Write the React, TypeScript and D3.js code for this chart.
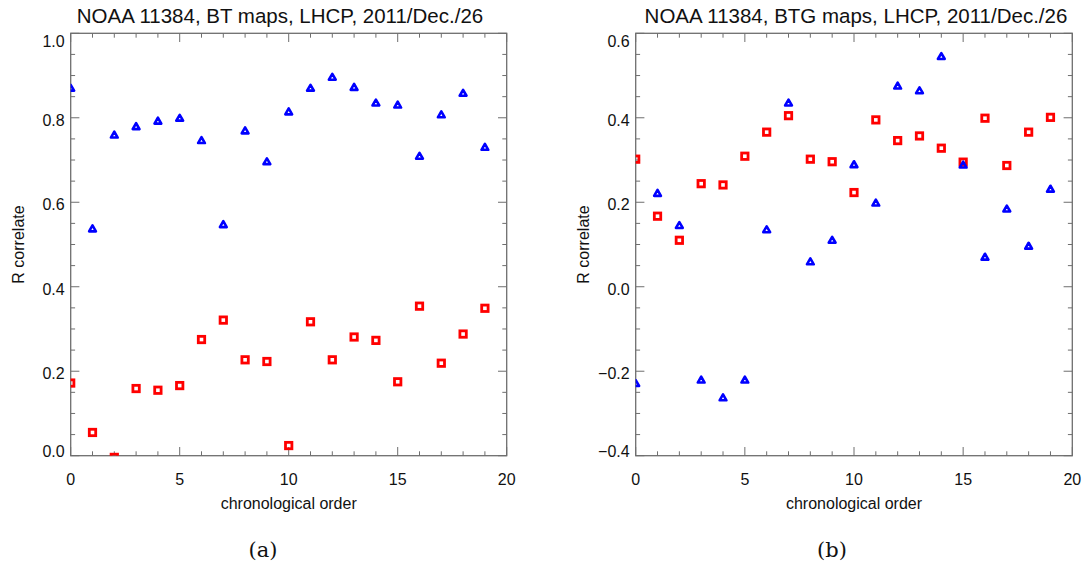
import React from "react";
import * as d3 from "d3";

const chronoOrder = d3.range(0, 20);

const btBlue = [0.870, 0.537, 0.759, 0.779, 0.792, 0.799, 0.746, 0.547, 0.769, 0.696,
  0.814, 0.870, 0.896, 0.872, 0.835, 0.830, 0.709, 0.807, 0.858, 0.730];
const btRed = [0.172, 0.055, -0.004, 0.159, 0.155, 0.166, 0.275, 0.321, 0.227, 0.223,
  0.024, 0.317, 0.227, 0.281, 0.273, 0.175, 0.354, 0.219, 0.288, 0.349];

const btgBlue = [-0.229, 0.221, 0.145, -0.221, -0.263, -0.221, 0.135, 0.435, 0.059, 0.110,
  0.289, 0.198, 0.475, 0.464, 0.545, 0.288, 0.070, 0.184, 0.096, 0.231];
const btgRed = [0.302, 0.167, 0.110, 0.244, 0.241, 0.309, 0.366, 0.405, 0.302, 0.296,
  0.223, 0.395, 0.346, 0.357, 0.328, 0.295, 0.399, 0.287, 0.366, 0.401];

const xTicks = [0, 5, 10, 15, 20];
const leftYTicks = [0.0, 0.2, 0.4, 0.6, 0.8, 1.0];
const rightYTicks = [-0.4, -0.2, 0.0, 0.2, 0.4, 0.6];

const titles = [
  "NOAA 11384, BT maps, LHCP, 2011/Dec./26",
  "NOAA 11384, BTG maps, LHCP, 2011/Dec./26",
];
const captions = ["(a)", "(b)"];
const xLabel = "chronological order";
const yLabel = "R correlate";

const FONT = "'Liberation Sans', Arial, Helvetica, sans-serif";
const AXIS = "#6e6e6e";

type PanelProps = {
  id: string;
  x0: number;
  x1: number;
  yDomain: [number, number];
  yTicks: number[];
  blue: number[];
  red: number[];
  title: string;
  titleX: number;
  caption: string;
  captionX: number;
};

function Panel(p: PanelProps) {
  const top = 33.3;
  const bottom = 455.7;
  const xs = d3.scaleLinear().domain([0, 20]).range([p.x0, p.x1]);
  const ys = d3.scaleLinear().domain(p.yDomain).range([bottom, top]);
  const major = 8.7;
  const minor = 4.4;
  const xMinor = d3.range(0, 21, 1);
  const yMinor = d3.range(p.yDomain[0], p.yDomain[1] + 1e-9, 0.05);
  const isMajorY = (v: number) => p.yTicks.some((t) => Math.abs(t - v) < 1e-6);
  const cx = (p.x0 + p.x1) / 2;
  const fmt = d3.format(".1f");
  const tri = d3.symbol().type(d3.symbolTriangle).size(20)();

  return (
    <g>
      <defs>
        <clipPath id={p.id}>
          <rect x={p.x0} y={top} width={p.x1 - p.x0} height={bottom - top} />
        </clipPath>
      </defs>
      <text x={p.titleX} y={23} textAnchor="middle" fontFamily={FONT} fontSize={20.5} fill="#111">
        {p.title}
      </text>
      {xMinor.map((v) => {
        const len = v % 5 === 0 ? major : minor;
        return (
          <g key={"xt" + v}>
            <line x1={xs(v)} x2={xs(v)} y1={bottom} y2={bottom - len} stroke={AXIS} strokeWidth={1} />
            <line x1={xs(v)} x2={xs(v)} y1={top} y2={top + len} stroke={AXIS} strokeWidth={1} />
          </g>
        );
      })}
      {yMinor.map((v, i) => {
        const len = isMajorY(v) ? major : minor;
        return (
          <g key={"yt" + i}>
            <line x1={p.x0} x2={p.x0 + len} y1={ys(v)} y2={ys(v)} stroke={AXIS} strokeWidth={1} />
            <line x1={p.x1} x2={p.x1 - len} y1={ys(v)} y2={ys(v)} stroke={AXIS} strokeWidth={1} />
          </g>
        );
      })}
      <rect x={p.x0} y={top} width={p.x1 - p.x0} height={bottom - top} fill="none" stroke={AXIS} strokeWidth={1.3} />
      {xTicks.map((v) => (
        <text key={"xl" + v} x={xs(v)} y={485} textAnchor="middle" fontFamily={FONT} fontSize={16} fill="#111">
          {v}
        </text>
      ))}
      {p.yTicks.map((v) => {
        const y = Math.min(Math.max(ys(v) + 2, top + 8), bottom - 5);
        return (
          <text key={"yl" + v} x={p.x0 - 6} y={y + 6} textAnchor="end" fontFamily={FONT} fontSize={16} fill="#111">
            {fmt(v)}
          </text>
        );
      })}
      <text x={cx} y={509} textAnchor="middle" fontFamily={FONT} fontSize={16} fill="#111">
        {xLabel}
      </text>
      <text
        transform={`translate(${p.x0 - 47},${(top + bottom) / 2}) rotate(-90)`}
        textAnchor="middle"
        fontFamily={FONT}
        fontSize={16}
        fill="#111"
      >
        {yLabel}
      </text>
      <g clipPath={`url(#${p.id})`}>
        {p.red.map((v, i) => (
          <rect
            key={"r" + i}
            x={xs(chronoOrder[i]) - 3.2}
            y={ys(v) - 3.2}
            width={6.4}
            height={6.4}
            fill="none"
            stroke="#ff0000"
            strokeWidth={2.8}
          />
        ))}
        {p.blue.map((v, i) => (
          <path
            key={"b" + i}
            d={tri as string}
            transform={`translate(${xs(chronoOrder[i])},${ys(v) + 0.5})`}
            fill="none"
            stroke="#0000ff"
            strokeWidth={2.6}
            strokeLinejoin="round"
          />
        ))}
      </g>
      <text x={p.captionX} y={557} textAnchor="middle" fontFamily="'DejaVu Serif', 'Liberation Serif', serif" fontSize={21} fill="#111">
        {p.caption}
      </text>
    </g>
  );
}

export default function App() {
  return (
    <svg
      width={1087}
      height={573}
      viewBox="0 0 1087 573"
      style={{ position: "absolute", left: 0, top: 0, background: "#fff" }}
    >
      <rect x={0} y={0} width={1087} height={573} fill="#fff" />
      <Panel
        id="clipA"
        x0={70.7}
        x1={506.7}
        yDomain={[0, 1]}
        yTicks={leftYTicks}
        blue={btBlue}
        red={btRed}
        title={titles[0]}
        titleX={280}
        caption={captions[0]}
        captionX={263}
      />
      <Panel
        id="clipB"
        x0={635.7}
        x1={1072.3}
        yDomain={[-0.4, 0.6]}
        yTicks={rightYTicks}
        blue={btgBlue}
        red={btgRed}
        title={titles[1]}
        titleX={856}
        caption={captions[1]}
        captionX={832}
      />
    </svg>
  );
}
